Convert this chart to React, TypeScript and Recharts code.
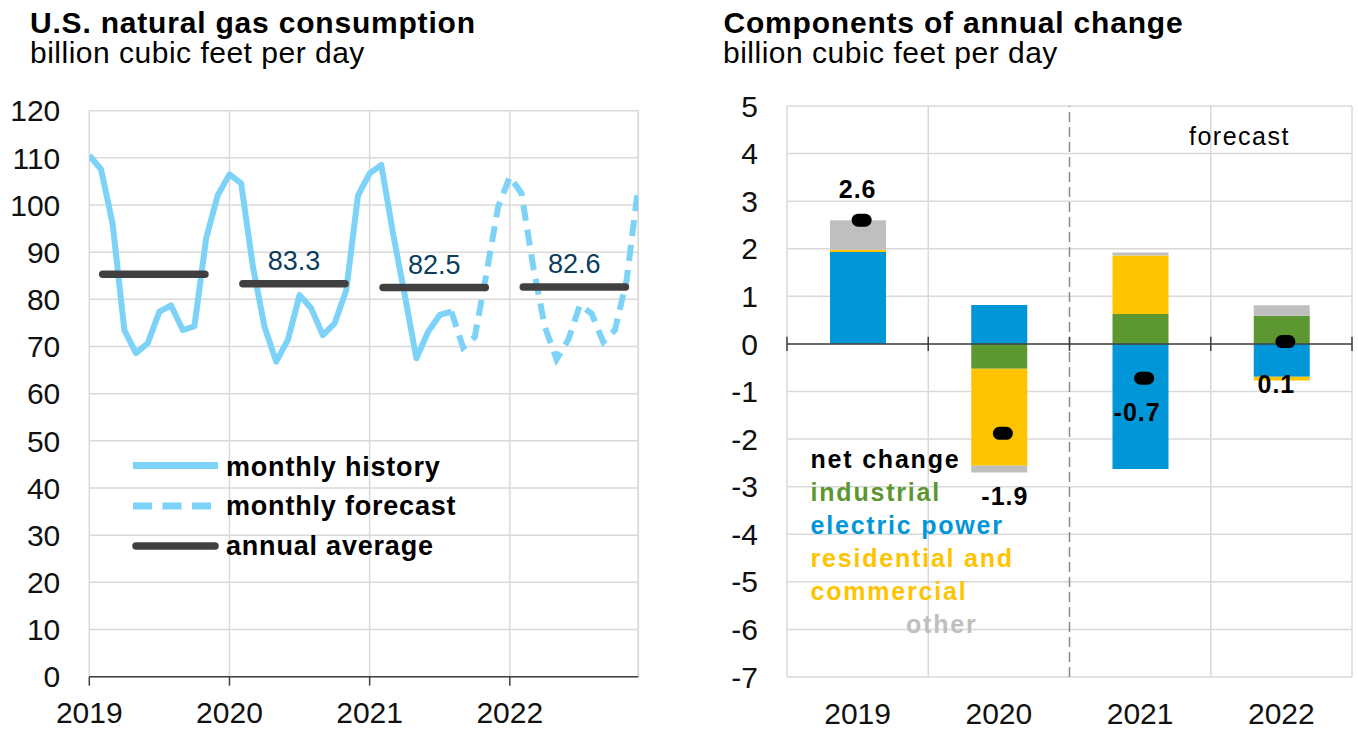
import React from 'react';
import {
  LineChart,
  Line,
  XAxis,
  YAxis,
  CartesianGrid,
  ReferenceLine,
  ReferenceDot,
  ComposedChart,
  Bar,
  LabelList,
} from 'recharts';

const FONT = '"Liberation Sans", Arial, Helvetica, sans-serif';

// ---------------- Left chart data ----------------
const yearLabels = ['2019', '2020', '2021', '2022'];
const leftYTicks = [0, 10, 20, 30, 40, 50, 60, 70, 80, 90, 100, 110, 120];
// monthly history, Jan 2019 .. Aug 2021 (month index 0..31)
const monthlyHistory = [
  110.5, 107.6, 96.0, 73.5, 68.6, 70.7, 77.4, 78.7, 73.5, 74.3, 92.9, 102.1,
  106.5, 104.6, 87.0, 74.2, 66.8, 71.4, 80.9, 78.1, 72.4, 74.9, 82.0, 102.0,
  106.7, 108.5, 94.0, 81.0, 67.5, 73.1, 76.7, 77.4,
];
const forecastStartMonth = 31;
// monthly forecast, Aug 2021 .. Dec 2022 (month index 31..47)
const monthlyForecast = [
  77.4, 69.8, 72.0, 85.5, 99.6, 106.0, 102.5, 87.0, 74.2, 67.3, 71.4, 78.8, 77.0,
  71.0, 73.5, 84.1, 103.9,
];
const annualAverage = [85.3, 83.3, 82.5, 82.6];
const annualAverageLabels = ['', '83.3', '82.5', '82.6'];
const annualAverageSpan = [1.15, 9.9]; // months within each year covered by the average bar
const legendLeftLabels = ['monthly history', 'monthly forecast', 'annual average'];

// ---------------- Right chart data ----------------
const changeYears = ['2019', '2020', '2021', '2022'];
const rightYTicks = [-7, -6, -5, -4, -3, -2, -1, 0, 1, 2, 3, 4, 5];
const industrial = [0, -0.52, 0.63, 0.59];
const electricPower = [1.93, 0.82, -2.63, -0.69];
const residentialCommercial = [0.05, -2.04, 1.23, -0.08];
const otherSector = [0.62, -0.14, 0.06, 0.22];
const netChange = [2.6, -1.88, -0.72, 0.05];
const netChangeLabels = ['2.6', '-1.9', '-0.7', '0.1'];
const legendRightLabels = ['net change', 'industrial', 'electric power', 'residential and', 'commercial', 'other'];

// ---------------- styles ----------------
const LIGHT_BLUE = '#7DD3F7';
const AVG_COLOR = '#404040';
const NAVY = '#0B3C5D';
const GRID = '#D9D9D9';
const AXIS = '#404040';
const GREEN = '#5D9732';
const BLUE = '#0096D7';
const YELLOW = '#FFC400';
const GRAY = '#BFBFBF';

const historyData = monthlyHistory.map((v, i) => ({ m: i, v }));
const forecastData = monthlyForecast.map((v, i) => ({ m: forecastStartMonth + i, v }));
const averageData = annualAverage.map((v, y) => [
  { m: y * 12 + annualAverageSpan[0], v },
  { m: y * 12 + annualAverageSpan[1], v },
]);

const changeData = changeYears.map((year, i) => ({
  year,
  industrial: industrial[i],
  electric: electricPower[i],
  resComm: residentialCommercial[i],
  other: otherSector[i],
  net: netChange[i],
}));

const tickStyle = { fontSize: 30, fill: '#111', fontFamily: FONT };

const netLabelOffsets = [
  { dx: 0, dy: -31 },
  { dx: 6, dy: 63 },
  { dx: -3, dy: 34 },
  { dx: -5, dy: 42 },
];

const NetDot = (props: any) => {
  const { cx, cy, index } = props;
  if (cx == null || cy == null) return <g key={`nd-${index}`} />;
  return <rect key={`nd-${index}`} x={cx - 6} y={cy - 6.5} width={20} height={13} rx={6.5} fill="#000" />;
};

const NetLabel = (props: any) => {
  const { index } = props;
  const x = props.x ?? props.viewBox?.x;
  const y = props.y ?? props.viewBox?.y;
  if (x == null || y == null) return null;
  const o = netLabelOffsets[index] || { dx: 0, dy: 0 };
  return (
    <text
      x={x + o.dx}
      y={y + o.dy}
      dy="0.36em"
      textAnchor="middle"
      fontFamily={FONT}
      fontWeight="bold"
      fontSize={25}
      letterSpacing={1}
      fill="#000"
    >
      {netChangeLabels[index]}
    </text>
  );
};

function LeftChart() {
  return (
    <LineChart width={680} height={730} margin={{ top: 110.7, right: 41.7, bottom: 0, left: 0 }}>
      <CartesianGrid stroke={GRID} strokeWidth={1.5} />
      <XAxis
        type="number"
        dataKey="m"
        domain={[0, 47]}
        allowDataOverflow
        ticks={[0, 12, 24, 36]}
        tickFormatter={(v: number) => yearLabels[Math.round(v / 12)]}
        height={53.3}
        stroke={AXIS}
        strokeWidth={1.5}
        tickSize={9}
        tickMargin={16}
        tick={tickStyle}
      />
      <YAxis
        type="number"
        domain={[0, 120]}
        ticks={leftYTicks}
        width={89.3}
        axisLine={false}
        tickLine={false}
        tickSize={0}
        tickMargin={29}
        tick={tickStyle}
      />
      <ReferenceLine x={47} stroke={GRID} strokeWidth={1.5} />
      <Line
        data={historyData}
        dataKey="v"
        type="linear"
        stroke={LIGHT_BLUE}
        strokeWidth={6}
        dot={false}
        activeDot={false}
        strokeLinejoin="round"
        isAnimationActive={false}
      />
      <Line
        data={forecastData}
        dataKey="v"
        type="linear"
        stroke={LIGHT_BLUE}
        strokeWidth={6}
        strokeDasharray="16 9"
        dot={false}
        activeDot={false}
        isAnimationActive={false}
      />
      {averageData.map((d, i) => (
        <Line
          key={`avg-${i}`}
          data={d}
          dataKey="v"
          type="linear"
          stroke={AVG_COLOR}
          strokeWidth={7.5}
          strokeLinecap="round"
          dot={false}
          activeDot={false}
          isAnimationActive={false}
        />
      ))}
      {annualAverage.map((v, i) =>
        annualAverageLabels[i] ? (
          <ReferenceDot
            key={`avgl-${i}`}
            x={i * 12 + (annualAverageSpan[0] + annualAverageSpan[1]) / 2}
            y={v}
            r={0}
            fill="none"
            stroke="none"
            label={{
              value: annualAverageLabels[i],
              position: 'top',
              offset: 14,
              fill: NAVY,
              fontSize: 27,
              fontFamily: FONT,
            }}
          />
        ) : null
      )}
    </LineChart>
  );
}

function RightChart() {
  return (
    <ComposedChart
      width={678}
      height={730}
      data={changeData}
      stackOffset="sign"
      margin={{ top: 106, right: 6, bottom: 0, left: 0 }}
    >
      <CartesianGrid vertical={false} stroke={GRID} strokeWidth={1.5} />
      <XAxis
        dataKey="year"
        axisLine={false}
        tickLine={false}
        height={53}
        tickSize={0}
        tickMargin={26}
        tick={tickStyle}
      />
      <YAxis
        type="number"
        domain={[-7, 5]}
        ticks={rightYTicks}
        width={107}
        axisLine={false}
        tickLine={false}
        tickSize={0}
        tickMargin={29}
        tick={tickStyle}
      />
      <ReferenceLine x={changeYears[0]} position="start" stroke={GRID} strokeWidth={1.5} />
      <ReferenceLine x={changeYears[1]} position="start" stroke={GRID} strokeWidth={1.5} />
      <ReferenceLine x={changeYears[3]} position="start" stroke={GRID} strokeWidth={1.5} />
      <ReferenceLine x={changeYears[3]} position="end" stroke={GRID} strokeWidth={1.5} />
      <ReferenceLine
        x={changeYears[2]}
        position="start"
        stroke="#8A8A8A"
        strokeWidth={1.5}
        strokeDasharray="10 5"
      />
      <Bar dataKey="industrial" stackId="s" fill={GREEN} barSize={56} isAnimationActive={false} />
      <Bar dataKey="electric" stackId="s" fill={BLUE} barSize={56} isAnimationActive={false} />
      <Bar dataKey="resComm" stackId="s" fill={YELLOW} barSize={56} isAnimationActive={false} />
      <Bar dataKey="other" stackId="s" fill={GRAY} barSize={56} isAnimationActive={false} />
      <ReferenceLine y={0} stroke={AXIS} strokeWidth={1.5} />
      {changeYears.map((yr, i) => (
        <ReferenceLine
          key={`tk-${i}`}
          position="start"
          segment={[
            { x: yr, y: -0.15 },
            { x: yr, y: 0.15 },
          ]}
          stroke={AXIS}
          strokeWidth={1.5}
        />
      ))}
      <ReferenceLine
        position="end"
        segment={[
          { x: changeYears[3], y: -0.15 },
          { x: changeYears[3], y: 0.15 },
        ]}
        stroke={AXIS}
        strokeWidth={1.5}
      />
      <Line
        dataKey="net"
        stroke="none"
        dot={NetDot}
        activeDot={false}
        legendType="none"
        isAnimationActive={false}
      >
        <LabelList dataKey="net" content={NetLabel} />
      </Line>
    </ComposedChart>
  );
}

function Overlay() {
  const titleProps = { fontFamily: FONT, fontWeight: 'bold' as const, fontSize: 30, letterSpacing: 0.8, fill: '#000' };
  const subProps = { fontFamily: FONT, fontSize: 30, letterSpacing: 0.5, fill: '#000' };
  const legTextL = { fontFamily: FONT, fontWeight: 'bold' as const, fontSize: 27, letterSpacing: 0.8, fill: '#000' };
  const legTextR = { fontFamily: FONT, fontWeight: 'bold' as const, fontSize: 25, letterSpacing: 1.8 };
  const rightColors = ['#000', GREEN, BLUE, YELLOW, YELLOW, GRAY];
  const rightX = [810.5, 810.5, 810.5, 810.5, 810.5, 906];
  const rightBase = [468, 501, 534, 567, 600, 633];
  return (
    <svg
      width={1358}
      height={730}
      style={{ position: 'absolute', left: 0, top: 0, pointerEvents: 'none' }}
    >
      <text x={30} y={33} {...titleProps}>U.S. natural gas consumption</text>
      <text x={30} y={63.3} {...subProps}>billion cubic feet per day</text>
      <text x={723.5} y={33} {...titleProps}>Components of annual change</text>
      <text x={723} y={63.3} {...subProps}>billion cubic feet per day</text>
      <text x={1189} y={145} fontFamily={FONT} fontSize={25} letterSpacing={1.5} fill="#000">forecast</text>

      {/* left legend */}
      <line x1={133} x2={218} y1={465.5} y2={465.5} stroke={LIGHT_BLUE} strokeWidth={7} />
      <line x1={133} x2={218} y1={506} y2={506} stroke={LIGHT_BLUE} strokeWidth={7} strokeDasharray="19 10.5" />
      <line x1={136} x2={215} y1={546} y2={546} stroke={AVG_COLOR} strokeWidth={7.5} strokeLinecap="round" />
      <text x={226} y={475.5} {...legTextL}>{legendLeftLabels[0]}</text>
      <text x={226} y={515} {...legTextL}>{legendLeftLabels[1]}</text>
      <text x={226} y={555} {...legTextL}>{legendLeftLabels[2]}</text>

      {/* right legend */}
      {legendRightLabels.map((t, i) => (
        <text key={t} x={rightX[i]} y={rightBase[i]} fill={rightColors[i]} {...legTextR}>
          {t}
        </text>
      ))}
    </svg>
  );
}

export default function App() {
  return (
    <div
      style={{
        position: 'absolute',
        left: 0,
        top: 0,
        width: 1358,
        height: 730,
        background: '#fff',
        overflow: 'hidden',
        fontFamily: FONT,
      }}
    >
      <div style={{ position: 'absolute', left: 0, top: 0 }}>
        <LeftChart />
      </div>
      <div style={{ position: 'absolute', left: 680, top: 0 }}>
        <RightChart />
      </div>
      <Overlay />
    </div>
  );
}
